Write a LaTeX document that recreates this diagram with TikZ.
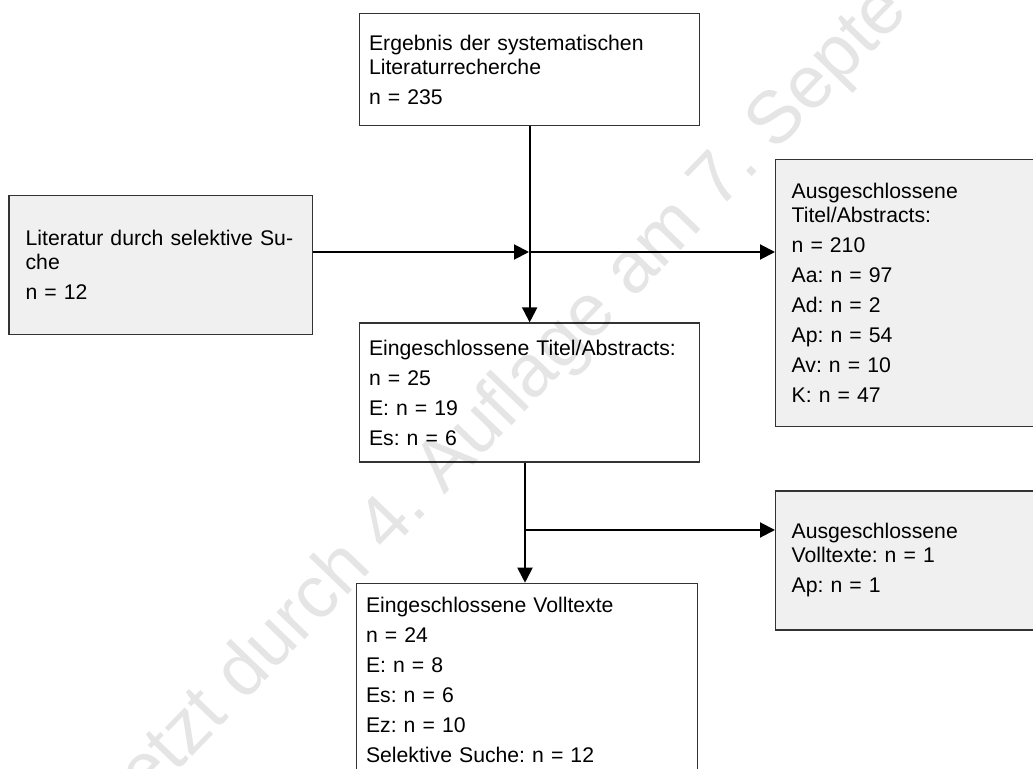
\documentclass[tikz,border=0pt]{standalone}
\usepackage{fontspec}
\setmainfont{Liberation Sans}
\usepackage{xcolor}
\usepackage{tikz}
\usetikzlibrary{positioning,arrows.meta}

\definecolor{boxgray}{HTML}{F0F0F0}
\definecolor{rahmen}{HTML}{333333}
\frenchspacing

\begin{document}
\begin{tikzpicture}[
        x=0.5pt, y=-0.5pt,
        box/.style={draw=rahmen, line width=0.65pt, fill=white, align=left, inner ysep=0pt, font=\fontsize{10.6}{12}\selectfont},
        result/.style={box, inner xsep=4.7pt, text width=160.6pt, minimum height=69.5pt},
        excluded/.style={box, fill=boxgray, inner xsep=8pt, text width=134pt},
        arrow/.style={-{Triangle[length=7.5pt,width=7.5pt]}, line width=1pt},
        watermark/.style={text=black, text opacity=0.1, inner sep=0pt, font=\fontsize{37}{37}\selectfont}
    ]
    \useasboundingbox (0,0) rectangle (1033,769);
    \clip (0,0) rectangle (1033,769);

    % Ergebnis der Recherche
    \node[result, anchor=north west, minimum height=56.2pt] (suche) at (359,12.7) {Ergebnis der systematischen\\ Literaturrecherche\\[3pt] n = 235};

    % eingeschlossene Titel/Abstracts
    \node[result, below=98pt of suche] (titel) {Eingeschlossene Titel/Abstracts:\\[3pt] n = 25\\[3pt] E: n = 19\\[3pt] Es: n = 6};

    % eingeschlossene Volltexte
    \node[result, below=60pt of titel, xshift=-1.25pt, text width=161.1pt, minimum height=96.5pt] (voll) {Eingeschlossene Volltexte\\[3pt] n = 24\\[3pt] E: n = 8\\[3pt] Es: n = 6\\[3pt] Ez: n = 10\\[3pt] Selektive Suche: n = 12};

    % selektive Suche
    \node[excluded, anchor=north west, inner xsep=8.35pt, text width=135pt, minimum height=69.6pt] (selektiv) at (8.3,195) {Literatur durch selektive Su-\\ che\\[3pt] n = 12};

    % Ausschluesse
    \node[excluded, anchor=north west, minimum height=133.5pt] (ausA) at (775,159) {Ausgeschlossene\\ Titel/Abstracts:\\[3pt] n = 210\\[3pt] Aa: n = 97\\[3pt] Ad: n = 2\\[3pt] Ap: n = 54\\[3pt] Av: n = 10\\[3pt] K: n = 47};
    \node[excluded, below=31.5pt of ausA, minimum height=69.5pt] (ausB) {Ausgeschlossene\\ Volltexte: n = 1\\[3pt] Ap: n = 1};

    % Verzweigungen
    \coordinate (k1) at (529,252);
    \coordinate (k2) at (525,530);

    % Pfeile
    \draw[arrow] (suche) -- (titel);
    \draw[arrow] (k1 -| selektiv.east) -- (k1);
    \draw[arrow] (k1) -- (k1 -| ausA.west);
    \draw[arrow] (titel.south -| k2) -- (voll.north -| k2);
    \draw[arrow] (k2) -- (k2 -| ausB.west);

    % Wasserzeichen
    \node[watermark, rotate=46] (wz) at (515,394.6) {etzt durch 4. Auflage am 7. Septe};

\end{tikzpicture}
\end{document}
